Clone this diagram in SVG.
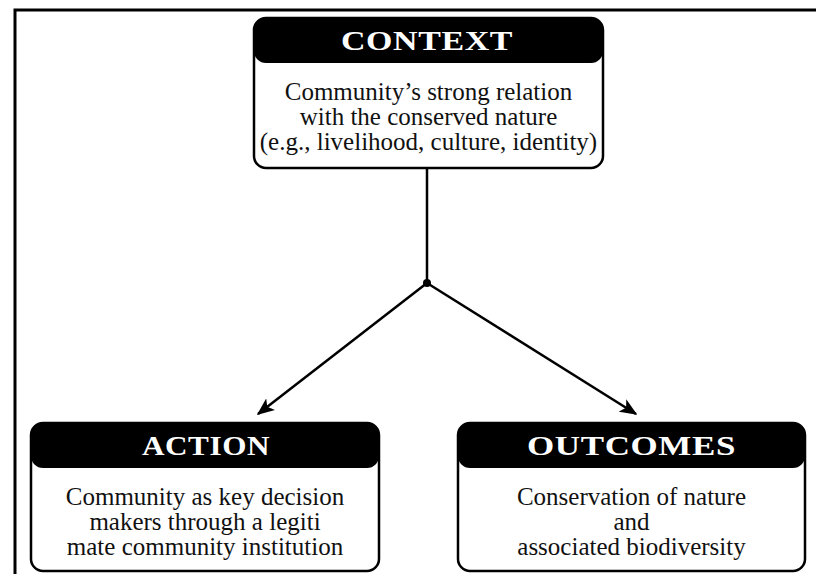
<svg xmlns="http://www.w3.org/2000/svg" width="816" height="574" viewBox="0 0 816 574">
<style>
.box{fill:#fff;stroke:#000;stroke-width:2.5}
.hdr{fill:#000}
.ht{font-family:"Liberation Serif","Times New Roman",serif;font-weight:bold;font-size:28px;fill:#fff;text-anchor:middle;letter-spacing:0.5px}
.bt{font-family:"Liberation Serif","Times New Roman",serif;font-size:25px;fill:#111;text-anchor:middle}
.conn{stroke:#000;stroke-width:2.5;fill:none}
</style>
<defs>
<marker id="ah" viewBox="0 0 12 10" refX="11" refY="5" markerWidth="7" markerHeight="6" orient="auto" markerUnits="strokeWidth">
<path d="M0,0 L12,5 L0,10 L3,5 z" fill="#000"/>
</marker>
</defs>
<rect width="816" height="574" fill="#fff"/>
<path d="M15,574 V10 H816" fill="none" stroke="#000" stroke-width="3"/>
<g id="connectors">
<line class="conn" x1="427" y1="168" x2="427" y2="283"/>
<circle cx="427" cy="283" r="4" fill="#000"/>
<line class="conn" x1="427" y1="283" x2="258" y2="414" marker-end="url(#ah)"/>
<line class="conn" x1="427" y1="283" x2="636" y2="414" marker-end="url(#ah)"/>
</g>
<g id="context">
<rect class="box" x="254" y="18" width="349" height="150" rx="12"/>
<rect class="hdr" x="254" y="18" width="349" height="45" rx="12"/>
<text class="ht" x="427" y="50" textLength="172" lengthAdjust="spacingAndGlyphs">CONTEXT</text>
<text class="bt" x="428.5" y="100">Community’s strong relation</text>
<text class="bt" x="428.5" y="125">with the conserved nature</text>
<text class="bt" x="428.5" y="150">(e.g., livelihood, culture, identity)</text>
</g>
<g id="action">
<rect class="box" x="31" y="423" width="348" height="148" rx="12"/>
<rect class="hdr" x="31" y="423" width="348" height="45" rx="12"/>
<text class="ht" x="206" y="455" textLength="128" lengthAdjust="spacingAndGlyphs">ACTION</text>
<text class="bt" x="205" y="505">Community as key decision</text>
<text class="bt" x="205" y="530">makers through a legiti</text>
<text class="bt" x="205" y="555">mate community institution</text>
</g>
<g id="outcomes">
<rect class="box" x="458" y="423" width="347" height="148" rx="12"/>
<rect class="hdr" x="458" y="423" width="347" height="45" rx="12"/>
<text class="ht" x="631.5" y="455" textLength="209" lengthAdjust="spacingAndGlyphs">OUTCOMES</text>
<text class="bt" x="631.5" y="505">Conservation of nature</text>
<text class="bt" x="631.5" y="530">and</text>
<text class="bt" x="631.5" y="555">associated biodiversity</text>
</g>
</svg>
